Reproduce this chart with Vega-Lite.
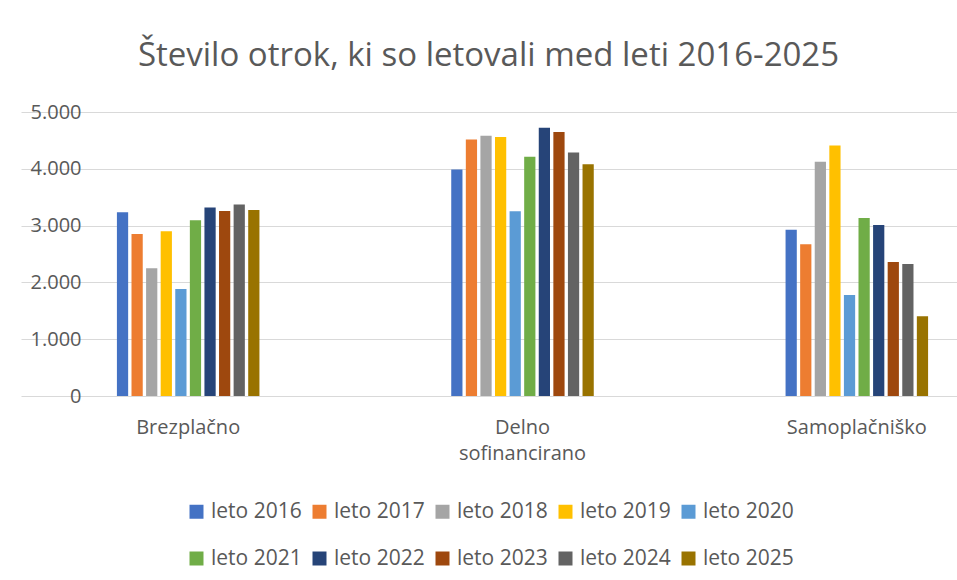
{
  "$schema": "https://vega.github.io/schema/vega-lite/v6.json",
  "width": 837,
  "height": 284,
  "autosize": {"type": "none"},
  "padding": {"left": 104, "top": 112, "right": 16, "bottom": 184},
  "background": "white",
  "title": {
    "text": "Število otrok, ki so letovali med leti 2016-2025",
    "font": "Open Sans",
    "fontSize": 33,
    "fontWeight": "normal",
    "color": "#595959",
    "anchor": "middle",
    "frame": "group",
    "dx": -34,
    "baseline": "alphabetic",
    "offset": 3
  },
  "data": {
    "values": [
      {"kategorija": "Brezplačno", "leto": "leto 2016", "vrednost": 3235},
      {"kategorija": "Brezplačno", "leto": "leto 2017", "vrednost": 2853},
      {"kategorija": "Brezplačno", "leto": "leto 2018", "vrednost": 2247},
      {"kategorija": "Brezplačno", "leto": "leto 2019", "vrednost": 2900},
      {"kategorija": "Brezplačno", "leto": "leto 2020", "vrednost": 1882},
      {"kategorija": "Brezplačno", "leto": "leto 2021", "vrednost": 3094},
      {"kategorija": "Brezplačno", "leto": "leto 2022", "vrednost": 3318},
      {"kategorija": "Brezplačno", "leto": "leto 2023", "vrednost": 3259},
      {"kategorija": "Brezplačno", "leto": "leto 2024", "vrednost": 3371},
      {"kategorija": "Brezplačno", "leto": "leto 2025", "vrednost": 3276},
      {"kategorija": "Delno sofinancirano", "leto": "leto 2016", "vrednost": 3988},
      {"kategorija": "Delno sofinancirano", "leto": "leto 2017", "vrednost": 4518},
      {"kategorija": "Delno sofinancirano", "leto": "leto 2018", "vrednost": 4582},
      {"kategorija": "Delno sofinancirano", "leto": "leto 2019", "vrednost": 4559},
      {"kategorija": "Delno sofinancirano", "leto": "leto 2020", "vrednost": 3253},
      {"kategorija": "Delno sofinancirano", "leto": "leto 2021", "vrednost": 4212},
      {"kategorija": "Delno sofinancirano", "leto": "leto 2022", "vrednost": 4724},
      {"kategorija": "Delno sofinancirano", "leto": "leto 2023", "vrednost": 4647},
      {"kategorija": "Delno sofinancirano", "leto": "leto 2024", "vrednost": 4288},
      {"kategorija": "Delno sofinancirano", "leto": "leto 2025", "vrednost": 4082},
      {"kategorija": "Samoplačniško", "leto": "leto 2016", "vrednost": 2929},
      {"kategorija": "Samoplačniško", "leto": "leto 2017", "vrednost": 2671},
      {"kategorija": "Samoplačniško", "leto": "leto 2018", "vrednost": 4124},
      {"kategorija": "Samoplačniško", "leto": "leto 2019", "vrednost": 4412},
      {"kategorija": "Samoplačniško", "leto": "leto 2020", "vrednost": 1776},
      {"kategorija": "Samoplačniško", "leto": "leto 2021", "vrednost": 3135},
      {"kategorija": "Samoplačniško", "leto": "leto 2022", "vrednost": 3012},
      {"kategorija": "Samoplačniško", "leto": "leto 2023", "vrednost": 2359},
      {"kategorija": "Samoplačniško", "leto": "leto 2024", "vrednost": 2324},
      {"kategorija": "Samoplačniško", "leto": "leto 2025", "vrednost": 1406}
    ]
  },
  "mark": {"type": "bar"},
  "encoding": {
    "x": {
      "field": "kategorija",
      "type": "nominal",
      "sort": ["Brezplačno", "Delno sofinancirano", "Samoplačniško"],
      "scale": {"range": [-83, 920], "paddingInner": 0.5737, "paddingOuter": 0.2869},
      "axis": {
        "title": null,
        "domain": false,
        "ticks": false,
        "labelAngle": 0,
        "labelFont": "Open Sans",
        "labelFontSize": 20,
        "labelColor": "#595959",
        "labelPadding": 21,
        "labelLineHeight": 26,
        "labelOverlap": false,
        "labelLimit": 0,
        "labelExpr": "datum.label == 'Delno sofinancirano' ? ['Delno', 'sofinancirano'] : datum.label"
      }
    },
    "xOffset": {
      "field": "leto",
      "type": "nominal",
      "scale": {"paddingInner": 0.23, "paddingOuter": 0}
    },
    "y": {
      "field": "vrednost",
      "type": "quantitative",
      "scale": {"domain": [0, 5000], "nice": false},
      "axis": {
        "title": null,
        "domain": false,
        "ticks": false,
        "grid": true,
        "gridColor": "#d9d9d9",
        "gridWidth": 1,
        "values": [0, 1000, 2000, 3000, 4000, 5000],
        "labelFont": "Open Sans",
        "labelFontSize": 20,
        "labelColor": "#595959",
        "labelPadding": 23,
        "labelExpr": "replace(format(datum.value, ','), ',', '.')"
      }
    },
    "color": {
      "field": "leto",
      "type": "nominal",
      "scale": {
        "domain": ["leto 2016", "leto 2017", "leto 2018", "leto 2019", "leto 2020", "leto 2021", "leto 2022", "leto 2023", "leto 2024", "leto 2025"],
        "range": ["#4472C4", "#ED7D31", "#A5A5A5", "#FFC000", "#5B9BD5", "#70AD47", "#264478", "#9E480E", "#636363", "#997300"]
      },
      "legend": {
        "title": null,
        "orient": "none",
        "legendX": 82,
        "legendY": 389,
        "direction": "horizontal",
        "columns": 5,
        "symbolType": "square",
        "symbolSize": 196,
        "symbolStrokeWidth": 0,
        "symbolOpacity": 1,
        "labelFont": "Open Sans",
        "labelFontSize": 21,
        "labelColor": "#595959",
        "labelOffset": 4,
        "labelLimit": 300,
        "columnPadding": 7,
        "rowPadding": 25,
        "gridAlign": "all"
      }
    }
  },
  "config": {"font": "Open Sans", "view": {"stroke": null}}
}
